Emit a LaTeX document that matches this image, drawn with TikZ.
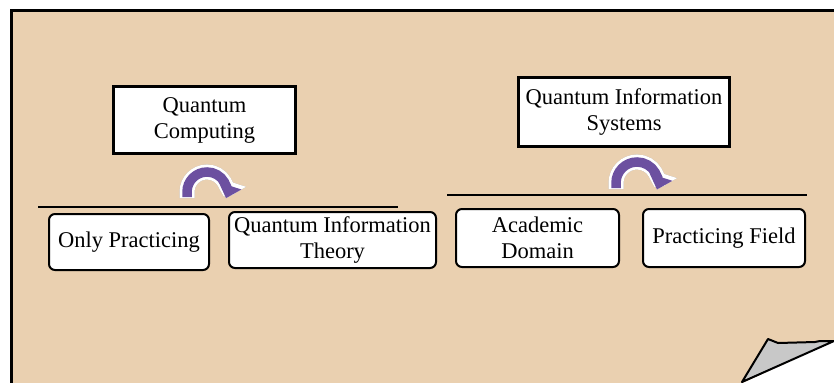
\documentclass[tikz,border=0pt]{standalone}
\usepackage{fontspec}
\setmainfont{Liberation Serif}
\usepackage{xcolor}
\usetikzlibrary{arrows.meta}
\definecolor{paper}{RGB}{234,208,176}
\definecolor{turnpurple}{RGB}{108,80,160}
\definecolor{curlgray}{RGB}{200,200,200}

\begin{document}
\begin{tikzpicture}[x=1pt, y=-1pt, font=\fontsize{22.5}{26}\selectfont, semithick,
  topic/.style={draw, fill=white, line width=3pt, align=center},
  branch/.style={draw, fill=white, line width=2pt, rounded corners=6pt, align=center, minimum height=56pt},
  turnshadow/.style={gray!75, line width=15pt, -{Triangle[width=30pt,length=17pt]}},
  turnrim/.style={white, line width=15pt, -{Triangle[width=30pt,length=17pt]}},
  turnband/.style={turnpurple, line width=9.5pt, -{Triangle[width=23pt,length=13pt]}}]

\useasboundingbox (0,0) rectangle (834,383);
\fill[paper] (11,10) rectangle (834,383);
\draw[line width=3pt] (834,10) -- (11,10) -- (11,383);

\node[topic, minimum width=182pt, minimum height=67pt] (qc) at (204.5,120) {Quantum\\Computing};
\node[topic, minimum width=211pt, minimum height=69pt] (qis) [node distance=419.5pt, right of=qc, yshift=8pt] {Quantum Information\\Systems};

\node[branch, minimum width=160pt] (op) [node distance=122pt, below of=qc, xshift=-75.5pt] {Only Practicing};
\node[branch, minimum width=207pt] (qit) [node distance=203.5pt, right of=op, yshift=2pt] {Quantum Information\\Theory};
\node[branch, minimum width=163pt, minimum height=58pt] (ad) [node distance=205pt, right of=qit, yshift=2pt] {Academic\\Domain};
\node[branch, minimum width=162pt, minimum height=58pt] (pf) [node distance=186.5pt, right of=ad] {Practicing Field};

\coordinate (ruleqc) at (38,207);
\coordinate (ruleqcend) at (398,207);
\coordinate (ruleqis) at (447,195);
\coordinate (ruleqisend) at (807,195);
\draw[line width=1.5pt] (ruleqc) -- (ruleqcend);
\draw[line width=1.5pt] (ruleqis) -- (ruleqisend);

\coordinate (turnqc) at (207,192);
\coordinate (turnqis) at (637,183);
\foreach \c/\r in {turnqc/20, turnqis/21} {
  \draw[turnshadow, shift={(2,3)}] (\c) ++(-\r,6) -- ++(0,-6) arc[start angle=180, end angle=378, radius=\r];
  \draw[turnrim] (\c) ++(-\r,6) -- ++(0,-6) arc[start angle=180, end angle=378, radius=\r];
  \draw[turnband] (\c) ++(-\r,5) -- ++(0,-5) arc[start angle=180, end angle=378, radius=\r];
}

\fill[white] (743,383) -- (834,341) -- (834,383) -- cycle;
\filldraw[fill=curlgray, line width=2pt, line join=round] (742,382) -- (768,339) -- (778,343) -- (815,342) -- (820,341) -- (834,341) -- cycle;

\end{tikzpicture}
\end{document}
